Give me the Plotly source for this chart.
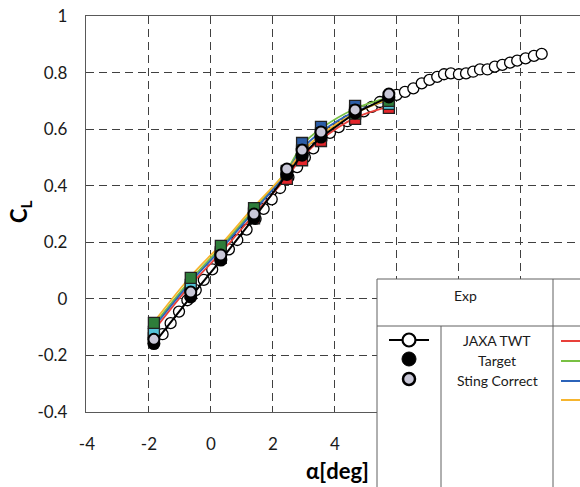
import plotly.graph_objects as go

# ---- data -------------------------------------------------------------
# JAXA transonic wind tunnel (open circles)
jaxa_alpha = [-1.56, -1.30, -1.03, -0.76, -0.49, -0.23, 0.04, 0.31, 0.58, 0.85,
              1.15, 1.44, 1.70, 1.96, 2.23, 2.50, 2.78, 3.03, 3.30, 3.56,
              3.84, 4.12, 4.40, 4.66, 4.93, 5.19, 5.45, 5.72, 5.99, 6.26,
              6.53, 6.80, 7.05, 7.30, 7.52, 7.74, 8.00, 8.23, 8.46, 8.68,
              8.92, 9.16, 9.40, 9.65, 9.88, 10.15, 10.42, 10.67]
jaxa_cl = [-0.125, -0.086, -0.045, -0.005, 0.031, 0.067, 0.104, 0.140, 0.175, 0.208,
           0.245, 0.283, 0.318, 0.352, 0.392, 0.430, 0.466, 0.500, 0.532, 0.562,
           0.587, 0.607, 0.628, 0.646, 0.663, 0.679, 0.696, 0.709, 0.721, 0.732,
           0.744, 0.762, 0.774, 0.785, 0.794, 0.797, 0.794, 0.797, 0.803, 0.811,
           0.811, 0.821, 0.827, 0.835, 0.842, 0.850, 0.859, 0.866]

# angles shared by the computed cases
cfd_alpha = [-1.84, -0.65, 0.32, 1.39, 2.45, 2.94, 3.55, 4.65, 5.74]

target_cl = [-0.158, 0.007, 0.137, 0.286, 0.440, 0.508, 0.572, 0.657, 0.714]
sting_cl = [-0.143, 0.024, 0.155, 0.300, 0.459, 0.526, 0.590, 0.668, 0.724]

# CFD curves
red_cl = [-0.112, 0.050, 0.163, 0.298, 0.430, 0.500, 0.563, 0.640, 0.680]
green_cl = [-0.092, 0.068, 0.183, 0.318, 0.455, 0.543, 0.602, 0.672, 0.712]
blue_cl = [-0.100, 0.060, 0.175, 0.310, 0.448, 0.530, 0.590, 0.662, 0.702]
orange_cl = [-0.082, 0.080, 0.192, 0.326, 0.450, 0.520, 0.580, 0.656, 0.706]

# CFD point values (squares)
sq_red_cl = [-0.140, 0.020, 0.145, 0.285, 0.424, 0.490, 0.558, 0.636, 0.675]
sq_blue_cl = [-0.125, 0.040, 0.160, 0.300, 0.452, 0.551, 0.608, 0.682, 0.700]
sq_cyan_cl = [-0.117, 0.049, 0.165, 0.305, 0.450, 0.525, 0.585, 0.665, 0.689]
sq_green_cl = [-0.085, 0.074, 0.187, 0.321, 0.445, 0.520, 0.580, 0.655, 0.700]

x_ticks = [-4, -2, 0, 2, 4]
x_tick_text = ["-4", "-2", "0", "2", "4"]
x_extra_grid = [6, 8, 10]
y_ticks = [-0.4, -0.2, 0, 0.2, 0.4, 0.6, 0.8, 1.0]
y_tick_text = ["-0.4", "-0.2", "0", "0.2", "0.4", "0.6", "0.8", "1"]

# ---- styling ----------------------------------------------------------
FONT = "Lato"
AXIS = "#595959"
GRID = "#404040"
DASH = "8px,5px"
W, H = 580, 487
L, R, T, B = 86, 580, 16, 412      # plot-area edges in pixels


def px(x):
    return (x - L) / (R - L)


def py(y):
    return (B - y) / (B - T)


fig = go.Figure()

fig.add_trace(go.Scatter(
    x=jaxa_alpha, y=jaxa_cl, mode="lines+markers", name="JAXA TWT",
    line=dict(color="black", width=1.5),
    marker=dict(symbol="circle", size=11, color="white",
                line=dict(color="black", width=1.3))))

for cl, col in [(red_cl, "#e8403a"), (green_cl, "#78c043"),
                (blue_cl, "#2b63b9"), (orange_cl, "#f6b52e")]:
    fig.add_trace(go.Scatter(
        x=cfd_alpha, y=cl, mode="lines", line=dict(color=col, width=1.8, shape="spline"),
        showlegend=False))

for cl, col in [(sq_red_cl, "#e3262b"), (sq_blue_cl, "#2c5ea8"),
                (sq_cyan_cl, "#52c3d8"), (sq_green_cl, "#2e7d3a")]:
    fig.add_trace(go.Scatter(
        x=cfd_alpha, y=cl, mode="markers",
        marker=dict(symbol="square", size=11, color=col,
                    line=dict(color="#222222", width=1.3)),
        showlegend=False))

fig.add_trace(go.Scatter(
    x=cfd_alpha, y=target_cl, mode="lines+markers", name="Target",
    line=dict(color="black", width=2),
    marker=dict(symbol="circle", size=13, color="black")))

fig.add_trace(go.Scatter(
    x=cfd_alpha, y=sting_cl, mode="markers", name="Sting Correct",
    marker=dict(symbol="circle", size=11, color="#c9c8d8",
                line=dict(color="black", width=2))))

# ---- legend table -----------------------------------------------------
shapes = []
lc = "#606060"
shapes.append(dict(type="rect", xref="paper", yref="paper",
                   x0=px(377), x1=px(640), y0=py(279), y1=py(560),
                   fillcolor="white", line=dict(color=lc, width=1), layer="above"))
shapes.append(dict(type="line", xref="paper", yref="paper",
                   x0=px(377), x1=px(640), y0=py(326), y1=py(326),
                   line=dict(color=lc, width=1), layer="above"))
shapes.append(dict(type="line", xref="paper", yref="paper",
                   x0=px(441), x1=px(441), y0=py(326), y1=py(560),
                   line=dict(color=lc, width=1), layer="above"))
shapes.append(dict(type="line", xref="paper", yref="paper",
                   x0=px(553), x1=px(553), y0=py(279), y1=py(560),
                   line=dict(color=lc, width=1), layer="above"))

# legend symbols
shapes.append(dict(type="line", xref="paper", yref="paper",
                   x0=px(389), x1=px(429), y0=py(340), y1=py(340),
                   line=dict(color="black", width=2), layer="above"))


def circ(cx, cy, d, fill, lw):
    return dict(type="circle", xref="paper", yref="paper",
                x0=px(cx - d / 2), x1=px(cx + d / 2),
                y0=py(cy + d / 2), y1=py(cy - d / 2),
                fillcolor=fill, line=dict(color="black", width=lw), layer="above")


shapes.append(circ(409, 340, 13, "white", 2.2))
shapes.append(circ(409, 359, 14, "black", 1))
shapes.append(circ(409, 379, 12, "#c9c8d8", 2.5))

for yy, col in [(341, "#e8403a"), (361, "#78c043"), (381, "#2b63b9"), (400, "#f6b52e")]:
    shapes.append(dict(type="line", xref="paper", yref="paper",
                       x0=px(561), x1=px(600), y0=py(yy), y1=py(yy),
                       line=dict(color=col, width=2.2), layer="above"))

annotations = []


def label(text, x, y, size=14):
    annotations.append(dict(text=text, x=px(x), y=py(y), xref="paper", yref="paper",
                            showarrow=False, xanchor="center", yanchor="middle",
                            font=dict(family=FONT, size=size, color="#1a1a1a")))


label("Exp", 465, 295)
label("JAXA TWT", 497, 340)
label("Target", 497, 360)
label("Sting Correct", 497, 380)

# axis titles
annotations.append(dict(text="<b>C<sub>L</sub></b>", x=px(20), y=py(212),
                        xref="paper", yref="paper", showarrow=False, textangle=-90,
                        xanchor="center", yanchor="middle",
                        font=dict(family=FONT, size=22, color="black")))
annotations.append(dict(text="<b>α[deg]</b>", x=px(371), y=py(470),
                        xref="paper", yref="paper", showarrow=False,
                        xanchor="right", yanchor="middle",
                        font=dict(family=FONT, size=22, color="black")))

fig.update_layout(
    width=W, height=H,
    margin=dict(l=L, r=W - R, t=T, b=H - B, pad=0),
    plot_bgcolor="white", paper_bgcolor="white",
    showlegend=False,
    shapes=shapes, annotations=annotations,
    font=dict(family=FONT, size=17, color="#1a1a1a"),
)

grid = dict(showgrid=True, gridcolor=GRID, gridwidth=1.3, griddash=DASH,
            zeroline=False, showline=True, linecolor=AXIS, linewidth=1.3,
            ticks="outside", tickcolor="rgba(0,0,0,0)")

fig.update_xaxes(range=[-4.03, -4.03 + (R - L) / 31.0], tickvals=x_ticks,
                 ticktext=x_tick_text, mirror=True, ticklen=16,
                 minor=dict(tickvals=x_extra_grid, showgrid=True, gridcolor=GRID,
                            gridwidth=1.3, griddash=DASH, ticks=""),
                 **grid)
fig.update_yaxes(range=[-0.4, 1.0], tickvals=y_ticks, ticktext=y_tick_text,
                 ticklen=14, **grid)

fig.write_html("out.html")
